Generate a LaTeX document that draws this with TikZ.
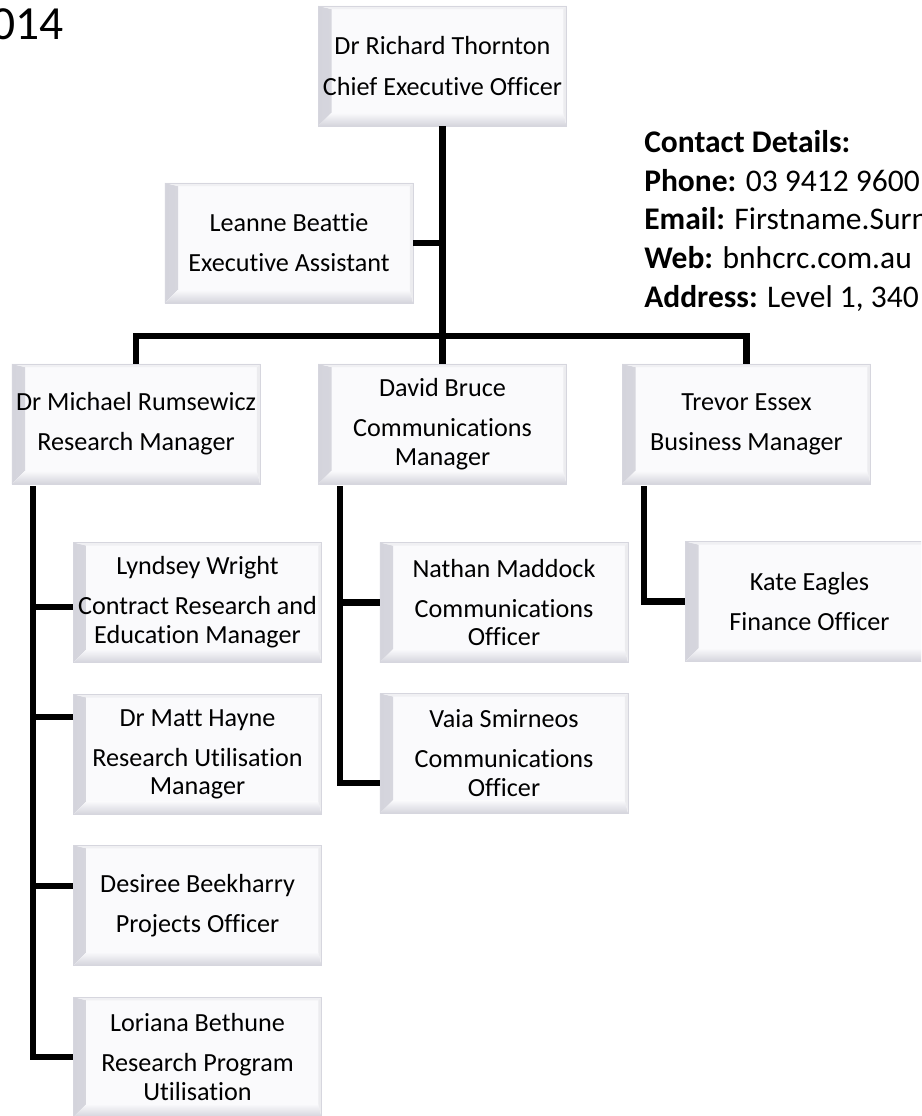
\documentclass[tikz,border=0pt]{standalone}
\usepackage{fontspec}
\setmainfont{Carlito}[Ligatures=NoCommon]
\usetikzlibrary{positioning,calc}
\definecolor{boxface}{RGB}{250,250,252}
\definecolor{bevel}{RGB}{212,212,220}
\definecolor{boxline}{RGB}{214,214,222}
\tikzset{
  orgbox/.style={rectangle, draw=boxline, line width=0.6pt, fill=boxface,
    minimum width=6.2cm, minimum height=3.0cm, inner sep=0pt, align=center,
    font=\fontsize{18.6}{20.5}\selectfont,
    path picture={
      \fill[left color=bevel, right color=boxface]
        (path picture bounding box.south west) -- (path picture bounding box.north west)
        -- ([shift={(0.33cm,-0.08cm)}]path picture bounding box.north west)
        -- ([shift={(0.33cm,0.33cm)}]path picture bounding box.south west) -- cycle;
      \fill[bottom color=bevel, top color=boxface]
        (path picture bounding box.south west) -- (path picture bounding box.south east)
        -- ([shift={(-0.08cm,0.33cm)}]path picture bounding box.south east)
        -- ([shift={(0.33cm,0.33cm)}]path picture bounding box.south west) -- cycle;
      \fill[bevel!45]
        (path picture bounding box.north east) -- (path picture bounding box.south east)
        -- ([shift={(-0.08cm,0.33cm)}]path picture bounding box.south east)
        -- ([shift={(-0.08cm,-0.08cm)}]path picture bounding box.north east) -- cycle;
      \fill[bevel!35]
        (path picture bounding box.north west) -- (path picture bounding box.north east)
        -- ([shift={(-0.08cm,-0.08cm)}]path picture bounding box.north east)
        -- ([shift={(0.33cm,-0.08cm)}]path picture bounding box.north west) -- cycle;
    }},
  link/.style={line width=4.3pt},
  contact/.style={anchor=base west, inner sep=0pt, font=\fontsize{22.4}{27}\selectfont},
}
\begin{document}
\begin{tikzpicture}[x=0.025cm, y=-0.025cm]
\useasboundingbox (0,0) rectangle (921,1116);
\clip (0,0) rectangle (921,1116);

\node[anchor=base east, inner sep=0pt, font=\fontsize{33.8}{40}\selectfont] (year) at (64,40) {014};

% top of the chart
\node[orgbox] (CEO) at (442.5,66) {Dr Richard Thornton\\[8pt]Chief Executive Officer};
\node[orgbox] (Leanne) at (289,243) {Leanne Beattie\\[8pt]Executive Assistant};

% contact block
\node[contact] (cdhead) at (644,153) {\textbf{Contact Details:}};
\node[contact] (cdphone) at (644,191.5) {\textbf{Phone:} 03 9412 9600};
\node[contact] (cdmail) at (644,230) {\textbf{Email:} Firstname.Surn};
\node[contact] (cdweb) at (644,268.5) {\textbf{Web:} bnhcrc.com.au};
\node[contact] (cdaddr) at (644,307) {\textbf{Address:} Level 1, 340};

% managers
\node[orgbox] (Michael) at (136,424) {Dr Michael Rumsewicz\\[8pt]Research Manager};
\node[orgbox] (David) at (442.5,424) {David Bruce\\[8pt]Communications\\Manager};
\node[orgbox] (Trevor) at (746.5,424) {Trevor Essex\\[8pt]Business Manager};

% staff
\node[orgbox] (Lyndsey) at (197.5,602.5) {Lyndsey Wright\\[8pt]Contract Research and\\Education Manager};
\node[orgbox, below=0.775cm of Lyndsey] (Matt) {Dr Matt Hayne\\[8pt]Research Utilisation\\Manager};
\node[orgbox, below=0.75cm of Matt] (Desiree) {Desiree Beekharry\\[8pt]Projects Officer};
\node[orgbox, below=0.775cm of Desiree] (Loriana) {Loriana Bethune\\[8pt]Research Program\\Utilisation};
\node[orgbox] (Nathan) at (504,602.5) {Nathan Maddock\\[8pt]Communications\\Officer};
\node[orgbox, below=0.75cm of Nathan] (Vaia) {Vaia Smirneos\\[8pt]Communications\\Officer};
\node[orgbox] (Kate) at (809.5,601.5) {Kate Eagles\\[8pt]Finance Officer};

% lines
\draw[link] (CEO.south) -- (David.north);
\draw[link] (Leanne.east) -- (Leanne.east -| CEO.south);
\draw[link] (Michael.north) -- ++(0,-28) -| (Trevor.north);

\coordinate (mtrunk) at ($(Michael.south west)+(21,2)$);
\draw[link] (mtrunk) |- (Loriana.west);
\draw[link] ([yshift=-3pt]Lyndsey.west) -| (mtrunk);
\draw[link] ([yshift=26.5pt]Matt.west) -| (mtrunk);
\draw[link] ([yshift=13.5pt]Desiree.west) -| (mtrunk);

\coordinate (dtrunk) at ($(David.south west)+(22,2)$);
\draw[link] (dtrunk) |- ([yshift=-21pt]Vaia.west);
\draw[link] (Nathan.west) -| (dtrunk);

\draw[link] ($(Trevor.south west)+(22,2)$) |- (Kate.west);
\end{tikzpicture}
\end{document}
